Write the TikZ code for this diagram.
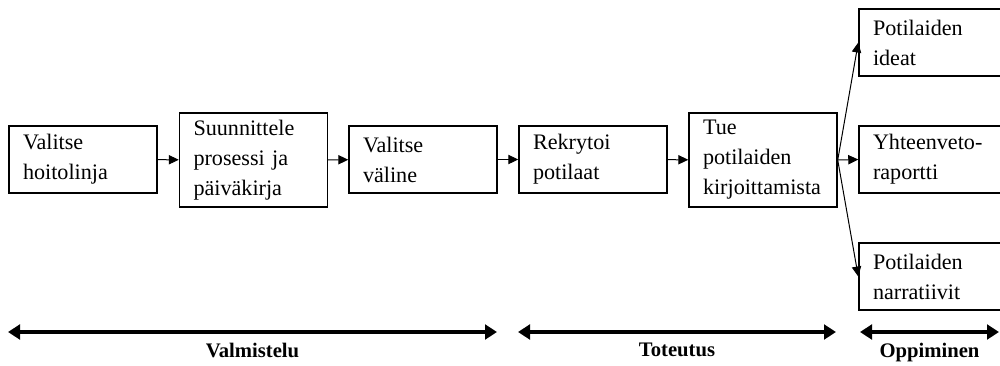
\documentclass[tikz,border=0pt]{standalone}
\usepackage{fontspec}
\setmainfont{Liberation Serif}
\usepackage{tikz}
\usetikzlibrary{arrows.meta, positioning}
\definecolor{mainBlack}{gray}{0.0}

\begin{document}
\begin{tikzpicture}[x=0.75pt, y=-0.75pt, >=Triangle,
    box/.style={draw, mainBlack, line width=1.1pt, text width=90pt, inner xsep=10.5pt,
        minimum height=50.25pt, align=left, font=\fontsize{16.6}{22.5}\selectfont},
    tall/.style={box, minimum height=70.5pt},
    flow/.style={-{Triangle[length=7.5pt, width=7pt]}, line width=0.75pt},
    phase/.style={{Triangle[length=9pt, width=11pt]}-{Triangle[length=9pt, width=11pt]}, line width=3pt},
    phaselabel/.style={font=\fontsize{15.5}{18}\selectfont\bfseries, inner sep=1pt}]
    \clip (0,0) rectangle (1000,365);
    
    % Steps
    \node[box]  (V1) at (83,159.5)  {Valitse\\hoitolinja};
    \node[tall] (S)  at (253.5,160) {Suunnittele\\prosessi ja\\päiväkirja};
    \node[box]  (V2) at (423,159.5) {Valitse\\väline};
    \node[box]  (R)  at (593,159.5) {Rekrytoi\\potilaat};
    \node[tall] (T)  at (763,160)   {Tue\\potilaiden\\kirjoittamista};
    
    % Outcomes
    \node[box] (PI) at (933,42.5)  {Potilaiden\\ideat};
    \node[box] (Y)  at (933,159.5) {Yhteenveto-\\raportti};
    \node[box] (PN) at (933,276.5) {Potilaiden\\narratiivit};
    
    \draw[flow] (V1) -- (S);
    \draw[flow] (S) -- (V2);
    \draw[flow] (V2) -- (R);
    \draw[flow] (R) -- (T);
    \draw[flow] (T.east) -- (PI.west);
    \draw[flow] (T.east) -- (Y.west);
    \draw[flow] (T.east) -- (PN.west);
    
    % Phases
    \coordinate (VA) at (8,332);
    \coordinate (VB) at (497,332);
    \coordinate (TA) at (518,332);
    \coordinate (TB) at (836,332);
    \coordinate (OA) at (860,332);
    \coordinate (OB) at (999,332);
    \draw[phase] (VA) -- (VB) node[midway, below=6pt, phaselabel] {Valmistelu};
    \draw[phase] (TA) -- (TB) node[midway, below=6pt, phaselabel] {Toteutus};
    \draw[phase] (OA) -- (OB) node[midway, below=6pt, phaselabel] {Oppiminen};
\end{tikzpicture}
\end{document}
